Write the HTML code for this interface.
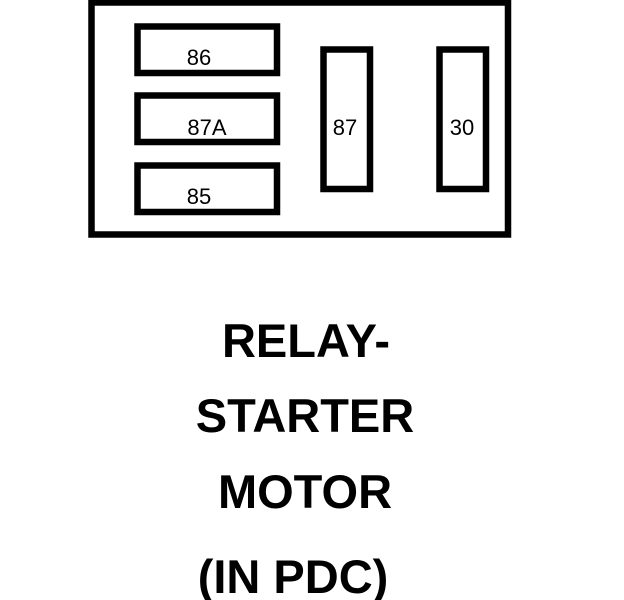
<!DOCTYPE html>
<html><head><style>html,body{margin:0;padding:0;background:#fff;}svg{display:block;}</style></head>
<body>
<svg width="624" height="600" viewBox="0 0 624 600" xmlns="http://www.w3.org/2000/svg">
<g fill="none" stroke="#000" stroke-width="6.5">
<rect x="91.5" y="2.5" width="416.5" height="232"/>
<rect x="137.5" y="26.5" width="139.5" height="46.5"/>
<rect x="137.5" y="95.5" width="139.5" height="46.5"/>
<rect x="137.5" y="165.5" width="139.5" height="46.5"/>
<rect x="323.5" y="49.5" width="46.5" height="139.5"/>
<rect x="439.5" y="49.5" width="46.5" height="139.5"/>
</g>
<g font-family="Liberation Sans, sans-serif" font-size="22" fill="#000" text-anchor="middle">
<text x="199" y="65">86</text>
<text x="207" y="135">87A</text>
<text x="199" y="204">85</text>
<text x="345" y="135">87</text>
<text x="462" y="135">30</text>
</g>
<g font-family="Liberation Sans, sans-serif" font-size="47" font-weight="bold" fill="#000" text-anchor="middle">
<text x="306" y="357">RELAY-</text>
<text x="305" y="432">STARTER</text>
<text x="305" y="508">MOTOR</text>
<text x="293" y="593">(IN PDC)</text>
</g>
</svg>
</body></html>
